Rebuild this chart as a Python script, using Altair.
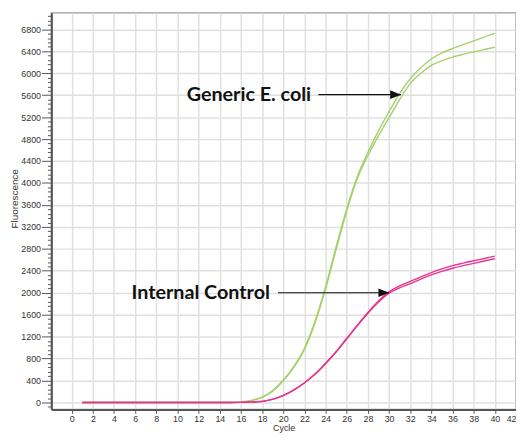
import altair as alt
import pandas as pd

cycles = list(range(1, 41))
ecoli_1 = [0] * 15 + [10, 40, 100, 220, 410, 660, 990, 1480, 2110, 2840, 3530, 4120, 4560,
                      4950, 5300, 5630, 5900, 6100, 6260, 6370, 6450, 6520, 6590, 6660, 6725]
ecoli_2 = [0] * 15 + [8, 35, 92, 205, 395, 640, 965, 1450, 2070, 2790, 3490, 4080, 4500,
                      4860, 5190, 5520, 5810, 6000, 6145, 6230, 6295, 6345, 6390, 6432, 6474]
ic_1 = [0] * 15 + [3, 8, 20, 60, 130, 230, 360, 520, 716, 930, 1170, 1410, 1640,
                   1850, 2015, 2125, 2207, 2290, 2368, 2435, 2493, 2540, 2583, 2625, 2667]
ic_2 = [0] * 15 + [3, 8, 19, 58, 127, 226, 355, 514, 708, 920, 1158, 1396, 1624,
                   1830, 1990, 2090, 2166, 2250, 2327, 2390, 2446, 2493, 2536, 2578, 2619]

x_ticks = list(range(0, 43, 2))
y_ticks = list(range(-80, 7041, 80))

ann_labels = ["Generic E. coli", "Internal Control"]
ann_text_x = [10.87, 5.65]
ann_y = [5610, 2000]
arrow_start = [23.32, 19.5]
arrow_end = [31.13, 30.02]

GREEN = "#a6d06b"
PINK = "#e8358f"


def long(series):
    rows = []
    for name, vals in series:
        for c, v in zip(cycles, vals):
            rows.append({"cycle": c, "value": v, "series": name})
    return pd.DataFrame(rows)


green_df = long([("ecoli_1", ecoli_1), ("ecoli_2", ecoli_2)])
pink_df = long([("ic_1", ic_1), ("ic_2", ic_2)])
ann_df = pd.DataFrame({"label": ann_labels, "tx": ann_text_x, "y": ann_y,
                       "x1": arrow_start, "x2": arrow_end})

x_scale = alt.Scale(domain=[-1.92, 42], nice=False, zero=False)
y_scale = alt.Scale(domain=[-126, 7100], nice=False, zero=False)

major = "datum.value % 400 === 0"

x_axis = alt.Axis(values=x_ticks, title="Cycle", format="d", labelFontSize=9,
                  labelColor="#333", labelPadding=1, tickSize=4, tickColor="#555",
                  titleFontSize=9, titleFontWeight="normal", titleColor="#333",
                  titlePadding=0, labelFlush=True, labelOverlap=False,
                  domainColor="#555", domainWidth=2, gridColor="#e0e0e0", gridWidth=1.5)

y_axis = alt.Axis(values=y_ticks, title="Fluorescence", format="d",
                  labelExpr="(datum.value % 400 === 0 && datum.value >= 0) ? datum.label : ''",
                  labelFontSize=9, labelColor="#333", labelPadding=1, labelOverlap=False,
                  labelBound=False, labelFlush=False,
                  tickSize={"condition": {"test": major, "value": 10}, "value": 4},
                  tickColor="#555",
                  gridOpacity={"condition": {"test": major, "value": 1}, "value": 0},
                  gridColor="#e0e0e0", gridWidth=1.5,
                  titleFontSize=10, titleFontWeight="normal", titleColor="#333",
                  titleX=-37, titleY=188, titleAngle=270, titleAlign="center",
                  titleBaseline="middle",
                  domainColor="#555", domainWidth=2)


def xenc(field):
    return alt.X(field, scale=x_scale, axis=x_axis)


def yenc(field):
    return alt.Y(field, scale=y_scale, axis=y_axis)


green = alt.Chart(green_df).mark_line(strokeWidth=1.4, color=GREEN, clip=True,
                                      interpolate="monotone").encode(
    x=xenc("cycle:Q"), y=yenc("value:Q"), detail="series:N",
)

pink = alt.Chart(pink_df).mark_line(strokeWidth=1.4, color=PINK, clip=True,
                                    interpolate="monotone").encode(
    x=xenc("cycle:Q"), y=yenc("value:Q"), detail="series:N",
)

texts = alt.Chart(ann_df).mark_text(font="Lato", fontWeight="bold", fontSize=20,
                                    align="left", baseline="middle", color="#111").encode(
    x=xenc("tx:Q"), y=yenc("y:Q"), text="label:N",
)

rules = alt.Chart(ann_df).mark_rule(color="#111", strokeWidth=1.2).encode(
    x=xenc("x1:Q"), x2="x2:Q", y=yenc("y:Q"),
)

heads = alt.Chart(ann_df).mark_point(shape="M0,0L-2,-0.8L-2,0.8Z", size=121, filled=True,
                                     color="#111", opacity=1, strokeWidth=0).encode(
    x=xenc("x2:Q"), y=yenc("y:Q"),
)

chart = alt.layer(green, pink, rules, heads, texts).properties(
    width=471, height=402,
    autosize=alt.AutoSizeParams(type="none"),
    padding={"left": 44, "top": 2, "right": 0, "bottom": 24},
    background="white",
).configure_view(stroke="#9a9a9a", strokeWidth=1.5)

chart.save("out.html", embed_options={"renderer": "svg", "actions": False})
